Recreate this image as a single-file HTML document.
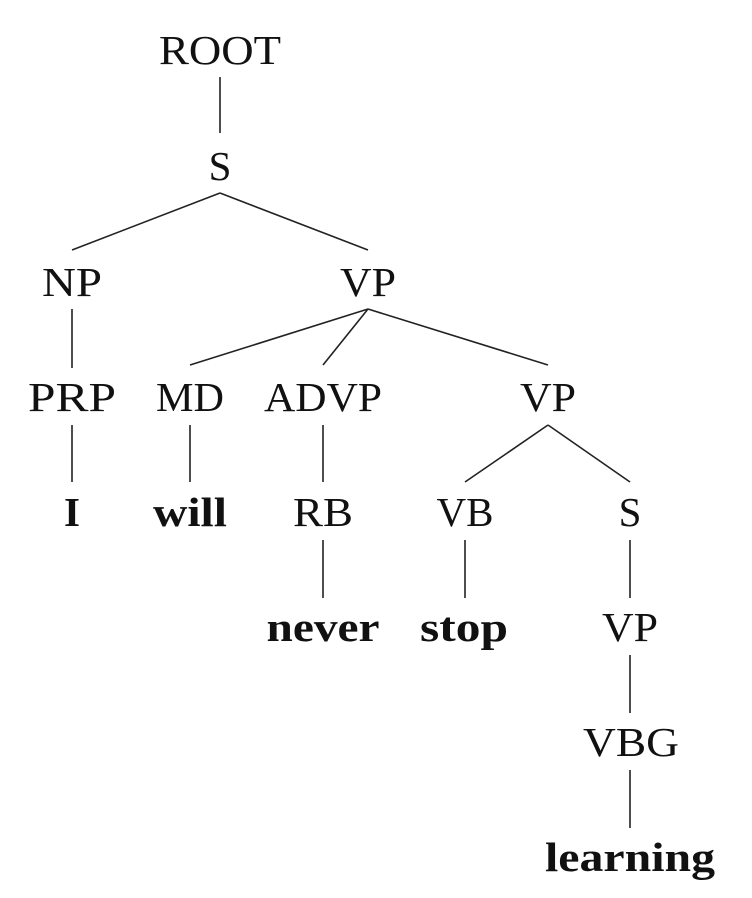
<!DOCTYPE html>
<html><head><meta charset="utf-8"><style>
html,body{margin:0;padding:0;background:#fff;}
svg{display:block;}
text{font-family:"Liberation Serif",serif;font-size:41px;fill:#111;text-anchor:middle;}
.b{font-weight:bold;}
line{stroke:#222;stroke-width:1.6;}
</style></head><body>
<svg width="752" height="898" viewBox="0 0 752 898" xmlns="http://www.w3.org/2000/svg">
<text x="220" y="64" textLength="122" lengthAdjust="spacingAndGlyphs">ROOT</text>
<text x="220" y="180">S</text>
<text x="72" y="296" textLength="60" lengthAdjust="spacingAndGlyphs">NP</text>
<text x="368" y="296" textLength="56" lengthAdjust="spacingAndGlyphs">VP</text>
<text x="72" y="411" textLength="88" lengthAdjust="spacingAndGlyphs">PRP</text>
<text x="190" y="411" textLength="68" lengthAdjust="spacingAndGlyphs">MD</text>
<text x="323" y="411" textLength="118" lengthAdjust="spacingAndGlyphs">ADVP</text>
<text x="548" y="411" textLength="56" lengthAdjust="spacingAndGlyphs">VP</text>
<text x="72" y="526" class="b">I</text>
<text x="190" y="526" class="b" textLength="74" lengthAdjust="spacingAndGlyphs">will</text>
<text x="323" y="526" textLength="60" lengthAdjust="spacingAndGlyphs">RB</text>
<text x="465" y="526" textLength="57" lengthAdjust="spacingAndGlyphs">VB</text>
<text x="630" y="526">S</text>
<text x="323" y="641" class="b" textLength="113" lengthAdjust="spacingAndGlyphs">never</text>
<text x="464" y="641" class="b" textLength="88" lengthAdjust="spacingAndGlyphs">stop</text>
<text x="630" y="641" textLength="56" lengthAdjust="spacingAndGlyphs">VP</text>
<text x="631" y="756" textLength="96" lengthAdjust="spacingAndGlyphs">VBG</text>
<text x="630" y="871" class="b" textLength="170" lengthAdjust="spacingAndGlyphs">learning</text>

<line x1="220" y1="77" x2="220" y2="133"/>
<line x1="220" y1="193" x2="72" y2="250"/>
<line x1="220" y1="193" x2="368" y2="250"/>
<line x1="72" y1="309" x2="72" y2="368"/>
<line x1="368" y1="309" x2="190" y2="365"/>
<line x1="368" y1="309" x2="323" y2="365"/>
<line x1="368" y1="309" x2="548" y2="365"/>
<line x1="72" y1="425" x2="72" y2="482"/>
<line x1="190" y1="425" x2="190" y2="482"/>
<line x1="323" y1="425" x2="323" y2="482"/>
<line x1="548" y1="425" x2="465" y2="482"/>
<line x1="548" y1="425" x2="630" y2="482"/>
<line x1="323" y1="540" x2="323" y2="598"/>
<line x1="465" y1="540" x2="465" y2="598"/>
<line x1="630" y1="540" x2="630" y2="598"/>
<line x1="630" y1="655" x2="630" y2="713"/>
<line x1="630" y1="770" x2="630" y2="828"/>
</svg>
</body></html>
